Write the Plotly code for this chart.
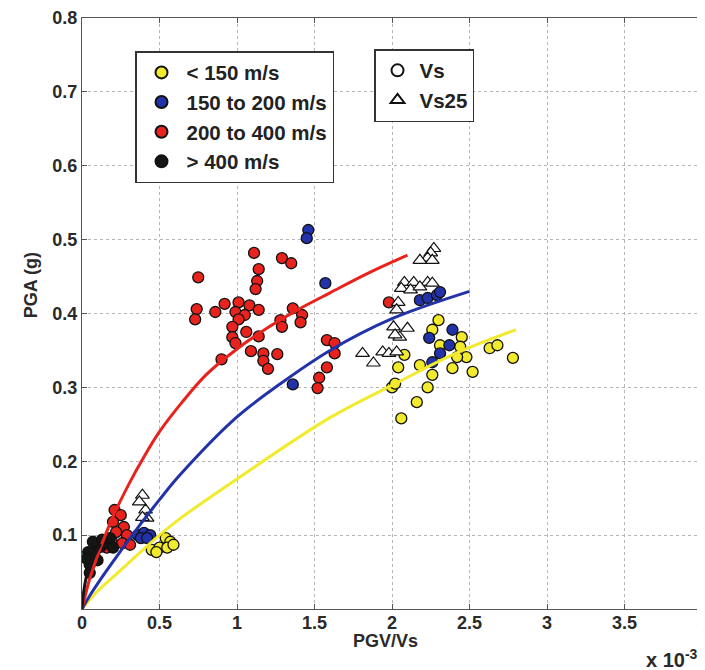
import plotly.graph_objects as go

# ---------------- data (PGV/Vs in units of 1e-3, PGA in g) ----------------
# Vs < 150 m/s (yellow circles)
yel_x = [0.45, 0.50, 0.54, 0.57, 0.55, 0.48, 0.59,
         2.30, 2.26, 2.31, 2.45, 2.44, 2.08, 2.04, 2.18, 2.26, 2.23, 2.00, 2.16, 2.06,
         2.39, 2.48, 2.52, 2.63, 2.68, 2.78, 2.42, 2.02]
yel_y = [0.080, 0.083, 0.096, 0.091, 0.083, 0.077, 0.087,
         0.391, 0.378, 0.357, 0.368, 0.355, 0.344, 0.327, 0.330, 0.317, 0.300, 0.300, 0.280, 0.258,
         0.326, 0.341, 0.321, 0.353, 0.357, 0.340, 0.341, 0.305]

# 150 to 200 m/s (blue circles)
blu_x = [0.36, 0.40, 0.44, 0.38, 0.42,
         1.46, 1.45, 1.57, 1.36,
         2.18, 2.23, 2.29, 2.31, 2.39, 2.24, 2.37, 2.31, 2.26]
blu_y = [0.100, 0.103, 0.100, 0.096, 0.096,
         0.513, 0.502, 0.441, 0.304,
         0.418, 0.421, 0.425, 0.429, 0.378, 0.367, 0.357, 0.346, 0.334]

# 200 to 400 m/s (red circles)
red_x = [0.21, 0.25, 0.20, 0.27, 0.22, 0.29, 0.19, 0.26, 0.16, 0.31,
         1.11, 1.29, 1.35, 1.14, 0.75, 1.13, 1.12, 0.74, 0.73, 0.86,
         0.92, 1.01, 1.08, 1.14, 0.99, 1.05, 1.01, 0.97, 1.06, 1.14,
         0.97, 0.99, 0.90, 1.09, 1.17, 1.26, 1.17, 1.20, 1.36, 1.42,
         1.41, 1.28, 1.29, 1.58, 1.63, 1.58, 1.53, 1.52, 1.63, 1.98]
red_y = [0.134, 0.127, 0.118, 0.111, 0.104, 0.100, 0.093, 0.089, 0.083, 0.087,
         0.482, 0.475, 0.468, 0.460, 0.449, 0.444, 0.433, 0.406, 0.392, 0.402,
         0.413, 0.415, 0.411, 0.405, 0.402, 0.398, 0.392, 0.382, 0.375, 0.369,
         0.368, 0.360, 0.338, 0.349, 0.346, 0.345, 0.336, 0.325, 0.407, 0.398,
         0.388, 0.391, 0.382, 0.364, 0.360, 0.327, 0.313, 0.299, 0.346, 0.415]

# > 400 m/s (black circles)
blk_x = [0.05, 0.08, 0.12, 0.07, 0.15, 0.18, 0.04, 0.10, 0.20, 0.05, 0.03, 0.13]
blk_y = [0.060, 0.076, 0.084, 0.091, 0.089, 0.096, 0.077, 0.066, 0.083, 0.049, 0.068, 0.094]

# Vs25 (open triangles)
tri_x = [0.39, 0.37, 0.41, 0.42, 0.39,
         2.27, 2.25, 2.23, 2.18, 2.26, 2.08, 2.14, 2.23, 2.26, 2.06, 2.12, 2.18,
         2.04, 2.03, 2.01, 2.10, 2.05, 2.02, 1.81, 1.88, 1.94, 1.98, 2.03]
tri_y = [0.154, 0.145, 0.134, 0.123, 0.124,
         0.488, 0.482, 0.475, 0.472, 0.472, 0.442, 0.442, 0.442, 0.441, 0.434, 0.432, 0.436,
         0.415, 0.405, 0.382, 0.380, 0.368, 0.371, 0.346, 0.333, 0.348, 0.346, 0.348]

# fitted curves
fit_red_x = [0, 0.02, 0.05, 0.1, 0.2, 0.3, 0.4, 0.5, 0.65, 0.8, 1.0, 1.2, 1.4, 1.6, 1.85, 2.1]
fit_red_y = [0, 0.0175, 0.041, 0.072, 0.125, 0.168, 0.206, 0.240, 0.281, 0.317, 0.352,
             0.381, 0.406, 0.428, 0.455, 0.479]
fit_blu_x = [0, 0.05, 0.1, 0.2, 0.31, 0.5, 0.63, 1.0, 1.28, 1.6, 2.0, 2.5]
fit_blu_y = [0, 0.018, 0.034, 0.064, 0.096, 0.148, 0.181, 0.260, 0.305, 0.350, 0.393, 0.430]
fit_yel_x = [0, 0.1, 0.2, 0.5, 0.63, 1.0, 1.6, 2.03, 2.4, 2.8]
fit_yel_y = [0, 0.024, 0.043, 0.100, 0.122, 0.176, 0.259, 0.306, 0.345, 0.378]
fit_blk_x = [0, 0.01, 0.03, 0.07, 0.12]
fit_blk_y = [0, 0.022, 0.045, 0.068, 0.088]

x_ticks = [0, 0.5, 1, 1.5, 2, 2.5, 3, 3.5, 4]
x_ticklabels = ["0", "0.5", "1", "1.5", "2", "2.5", "3", "3.5", "4"]
y_ticks = [0.1, 0.2, 0.3, 0.4, 0.5, 0.6, 0.7, 0.8]
y_ticklabels = ["0.1", "0.2", "0.3", "0.4", "0.5", "0.6", "0.7", "0.8"]

# ---------------- styling ----------------
YEL = "#f2ea2c"
BLU = "#2233aa"
RED = "#e8231e"
BLK = "#151515"
FONT = "Liberation Sans"

fig = go.Figure()

def circles(x, y, color, name):
    fig.add_trace(go.Scatter(
        x=x, y=y, mode="markers", name=name, legend="legend",
        marker=dict(symbol="circle", size=11, color=color,
                    line=dict(color="#111", width=1.3))))

circles(yel_x, yel_y, YEL, "< 150 m/s")
circles(blu_x, blu_y, BLU, "150 to 200 m/s")
circles(red_x, red_y, RED, "200 to 400 m/s")
circles(blk_x, blk_y, BLK, "> 400 m/s")

fig.add_trace(go.Scatter(
    x=[None], y=[None], mode="markers", name="Vs", legend="legend2",
    marker=dict(symbol="circle", size=10, color="white",
                line=dict(color="#111", width=1.3))))
fig.add_trace(go.Scatter(
    x=tri_x, y=tri_y, mode="markers", name="Vs25", legend="legend2",
    marker=dict(symbol="triangle-up", size=12, color="white",
                line=dict(color="#111", width=1.2))))

for fx, fy, c in [(fit_yel_x, fit_yel_y, YEL), (fit_blu_x, fit_blu_y, BLU),
                  (fit_red_x, fit_red_y, RED), (fit_blk_x, fit_blk_y, BLK)]:
    fig.add_trace(go.Scatter(x=fx, y=fy, mode="lines", showlegend=False,
                             line=dict(color=c, width=3, shape="spline", smoothing=1.0),
                             hoverinfo="skip"))

axis_common = dict(
    showgrid=True, gridcolor="#b5b5b5", griddash="dot", gridwidth=1,
    showline=True, linecolor="#555", linewidth=1, mirror="ticks",
    ticks="inside", ticklen=5, tickcolor="#555", zeroline=False,
    tickfont=dict(family=FONT, size=18, color="#2a2a2a", weight="bold"),
    automargin=False, ticklabeloverflow="allow",
)

# page body has an 8px default margin: figure is sized so it ends at the window edge
fig.update_layout(
    width=697, height=662,
    margin=dict(l=74, r=3, t=10, b=61),
    paper_bgcolor="white", plot_bgcolor="white",
    font=dict(family=FONT, weight="bold", color="#222"),
    xaxis=dict(range=[0, 4], tickvals=x_ticks, ticktext=x_ticklabels,
               ticklabelstandoff=-3, **axis_common),
    yaxis=dict(range=[0, 0.8], tickvals=y_ticks, ticktext=y_ticklabels, **axis_common),
    legend=dict(x=0.0855, y=0.944, xanchor="left", yanchor="top",
                bgcolor="white", bordercolor="#333", borderwidth=1.5,
                font=dict(family=FONT, size=20.5, color="#222", weight="bold"),
                itemsizing="constant", itemwidth=40),
    legend2=dict(x=0.471, y=0.9475, xanchor="left", yanchor="top",
                 bgcolor="white", bordercolor="#333", borderwidth=1.5,
                 font=dict(family=FONT, size=20.5, color="#222", weight="bold"),
                 itemsizing="constant", itemwidth=34),
    annotations=[
        dict(text="PGV/Vs", xref="paper", yref="paper", x=0.489, y=-0.054,
             showarrow=False, xanchor="center", yanchor="middle",
             font=dict(family=FONT, size=18, color="#2a2a2a", weight="bold")),
        dict(text="PGA (g)", xref="paper", yref="paper", x=-0.082, y=0.548,
             showarrow=False, textangle=-90, xanchor="center", yanchor="middle",
             font=dict(family=FONT, size=18, color="#2a2a2a", weight="bold")),
        dict(text="x 10<sup>-3</sup>", xref="paper", yref="paper", x=1.0, y=-0.083,
             showarrow=False, xanchor="right", yanchor="middle", xshift=-2,
             font=dict(family=FONT, size=20, color="#2a2a2a", weight="bold")),
    ],
)

fig.write_html("out.html")
